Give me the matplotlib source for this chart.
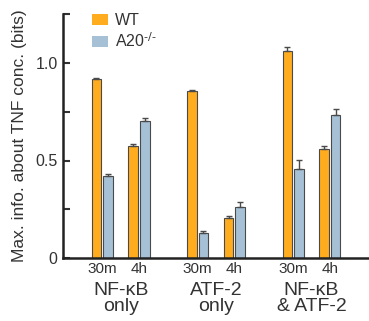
import matplotlib
matplotlib.use("Agg")
import matplotlib.pyplot as plt
import numpy as np

plt.rcParams['font.family'] = ['Liberation Sans', 'DejaVu Sans']

# data
groups = ['NF-\u03baB\nonly', 'ATF-2\nonly', 'NF-\u03baB\n& ATF-2']
times = ['30m', '4h']
wt = [0.916, 0.575, 0.856, 0.203, 1.059, 0.559]
wt_err = [0.005, 0.012, 0.005, 0.013, 0.024, 0.016]
a20 = [0.420, 0.700, 0.131, 0.262, 0.454, 0.731]
a20_err = [0.012, 0.016, 0.010, 0.026, 0.049, 0.032]

orange = '#FFAD1F'
blue = '#A6C1D6'
edge = '#4a4a4a'
txt = '#333333'

fig = plt.figure(figsize=(3.69, 3.21), dpi=100)
ax = fig.add_axes([0.171, 0.196, 0.829, 0.760])

pos = []
for g in range(len(groups)):
    for t in range(len(times)):
        pos.append(g + t * 0.385)
pos = np.array(pos)
w = 0.1
off = 0.061

ax.bar(pos - off, wt, w, color=orange, edgecolor=edge, linewidth=0.8,
       yerr=[np.zeros(len(wt)), wt_err], error_kw=dict(ecolor=edge, elinewidth=1, capsize=2.5, capthick=1),
       label='WT', zorder=2)
ax.bar(pos + off, a20, w, color=blue, edgecolor=edge, linewidth=0.8,
       yerr=[np.zeros(len(a20)), a20_err], error_kw=dict(ecolor=edge, elinewidth=1, capsize=2.5, capthick=1),
       label='A20$^{\\text{-/-}}$', zorder=2)

ax.set_xlim(pos[0] - 0.41, pos[-1] + 0.41)
ax.set_ylim(0, 1.25)
ax.set_yticks([0, 0.5, 1.0])
ax.set_yticklabels(['0', '0.5', '1.0'])
ax.set_yticks([0.25, 0.75, 1.25], minor=True)
ax.tick_params(axis='y', which='both', direction='in', length=5, width=1.5,
               colors=txt, labelsize=11.5, pad=4)
ax.tick_params(axis='x', length=0, labelsize=11, colors=txt, pad=3)
ax.set_xticks(pos)
ax.set_xticklabels(times * len(groups))

for g, name in enumerate(groups):
    ax.text(g + 0.1925, -0.12, name, ha='center', va='top', fontsize=14,
            color=txt, transform=ax.transData, linespacing=0.98)

ax.set_ylabel('Max. info. about TNF conc. (bits)', fontsize=12.5, color=txt, labelpad=6)

for s in ['top', 'right']:
    ax.spines[s].set_visible(False)
for s in ['left', 'bottom']:
    ax.spines[s].set_linewidth(1.8)
    ax.spines[s].set_color('#222222')

leg = ax.legend(loc='upper left', bbox_to_anchor=(0.075, 1.03), frameon=False,
                fontsize=11.5, handlelength=0.95, handleheight=0.75, handletextpad=0.45,
                labelspacing=0.2, borderaxespad=0)
for h in leg.legend_handles:
    h.set_edgecolor('none')
for t in leg.get_texts():
    t.set_color(txt)

fig.savefig('out.png', dpi=100)
